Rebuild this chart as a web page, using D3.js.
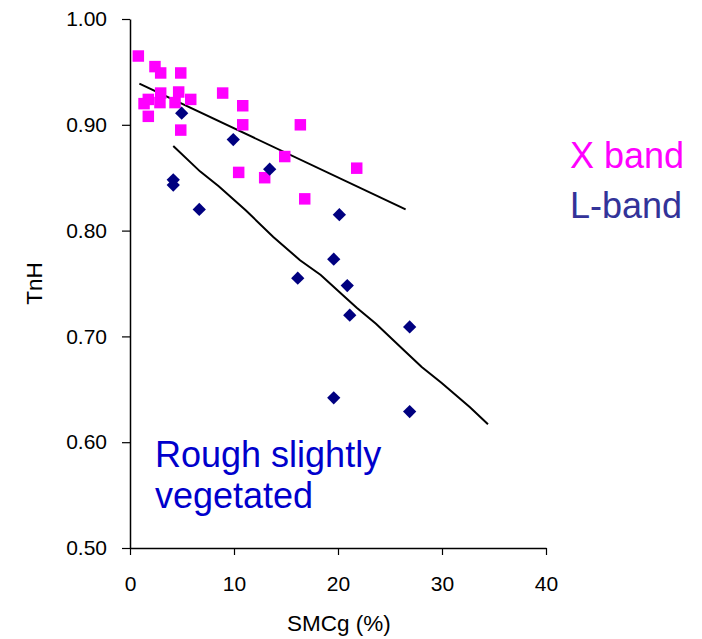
<!DOCTYPE html>
<html>
<head>
<meta charset="utf-8">
<script src="https://cdn.jsdelivr.net/npm/d3@7"></script>
<style>
  html, body { margin: 0; padding: 0; background: #fff; }
  svg { display: block; font-family: "Liberation Sans", Arial, sans-serif; }
</style>
</head>
<body>
<svg id="chart" width="702" height="639"></svg>
<script>
// X band brightness temperature ratio vs. soil moisture
const xBandSMC = [0.8, 2.4, 2.95, 4.88, 2.95, 4.68, 1.76, 1.35, 2.88, 4.33, 5.84, 8.91, 10.84, 1.76, 4.88, 10.84, 16.38, 14.88, 21.8, 10.45, 12.95, 16.8];
const xBandTnH = [0.965, 0.955, 0.949, 0.949, 0.930, 0.931, 0.924, 0.920, 0.921, 0.921, 0.924, 0.930, 0.918, 0.908, 0.895, 0.900, 0.900, 0.870, 0.859, 0.855, 0.850, 0.830];

// L-band brightness temperature ratio vs. soil moisture
const lBandSMC = [4.97, 9.93, 13.43, 4.16, 4.16, 6.66, 20.13, 19.59, 16.13, 20.89, 21.13, 26.89, 19.59, 26.89];
const lBandTnH = [0.911, 0.886, 0.858, 0.848, 0.843, 0.820, 0.815, 0.773, 0.755, 0.748, 0.720, 0.709, 0.642, 0.629];

// Trend lines
const xTrendSMC = [0.9, 26.5];
const xTrendTnH = [0.939, 0.820];
const lTrendSMC = [4.16, 6.73, 8.53, 11.15, 13.78, 16.35, 18.34, 20.13, 21.8, 23.65, 26.44, 28.05, 29.97, 32.69, 34.42];
const lTrendTnH = [0.880, 0.856, 0.842, 0.819, 0.794, 0.772, 0.758, 0.742, 0.727, 0.712, 0.686, 0.671, 0.656, 0.633, 0.617];

// Axis ticks
const xTicks = [0, 10, 20, 30, 40];
const yTicks = [0.5, 0.6, 0.7, 0.8, 0.9, 1.0];

const svg = d3.select("#chart");

const x = d3.scaleLinear().domain([0, 40]).range([130, 546]);
const y = d3.scaleLinear().domain([0.5, 1.0]).range([548, 19]);

// Axes
const yAxis = svg.append("g")
  .attr("transform", `translate(${x(0)},0)`)
  .call(d3.axisLeft(y).tickValues(yTicks).tickFormat(d3.format(".2f"))
    .tickSize(8).tickSizeOuter(0).tickPadding(15));
const xAxis = svg.append("g")
  .attr("transform", `translate(0,${y(0.5)})`)
  .call(d3.axisBottom(x).tickValues(xTicks).tickFormat(d3.format("d"))
    .tickSize(7).tickSizeOuter(0).tickPadding(21));

[xAxis, yAxis].forEach(g => {
  g.select(".domain").attr("stroke", "#000").attr("stroke-width", 1.5);
  g.selectAll(".tick line").attr("stroke", "#000").attr("stroke-width", 1.2);
  g.selectAll(".tick text").attr("fill", "#000")
    .style("font-size", "21px").style("font-family", "'Liberation Sans', Arial, sans-serif");
});

// Axis titles
svg.append("text")
  .attr("x", 339).attr("y", 631)
  .attr("text-anchor", "middle")
  .style("font-size", "22.5px")
  .text("SMCg (%)");
svg.append("text")
  .attr("transform", `translate(42,${y(0.75)}) rotate(-90)`)
  .attr("text-anchor", "middle")
  .style("font-size", "22.5px")
  .text("TnH");

// Trend lines
const line = d3.line().x(d => x(d[0])).y(d => y(d[1]));
svg.append("path")
  .datum(d3.zip(xTrendSMC, xTrendTnH))
  .attr("d", line)
  .attr("fill", "none").attr("stroke", "#000").attr("stroke-width", 2);
svg.append("path")
  .datum(d3.zip(lTrendSMC, lTrendTnH))
  .attr("d", line)
  .attr("fill", "none").attr("stroke", "#000").attr("stroke-width", 2);

// X band markers (squares)
const square = d3.symbol(d3.symbolSquare, 132);
svg.append("g").selectAll("path")
  .data(d3.zip(xBandSMC, xBandTnH))
  .join("path")
  .attr("d", square)
  .attr("transform", d => `translate(${x(d[0])},${y(d[1])})`)
  .attr("fill", "#ff00ff");

// L-band markers (diamonds)
const diamond = d3.symbol(d3.symbolSquare, 88);
svg.append("g").selectAll("path")
  .data(d3.zip(lBandSMC, lBandTnH))
  .join("path")
  .attr("d", diamond)
  .attr("transform", d => `translate(${x(d[0])},${y(d[1])}) rotate(45)`)
  .attr("fill", "#000080");

// Legend labels
svg.append("text")
  .attr("x", 570).attr("y", 168)
  .style("font-size", "36px").attr("fill", "#ff00ff")
  .text("X band");
svg.append("text")
  .attr("x", 570).attr("y", 218)
  .style("font-size", "36px").attr("fill", "#333399")
  .text("L-band");

// Surface description
const note = svg.append("text")
  .attr("x", 155).attr("y", 467)
  .style("font-size", "36px").attr("fill", "#0000cc");
note.append("tspan").attr("x", 155).attr("dy", 0).text("Rough slightly");
note.append("tspan").attr("x", 155).attr("dy", 41).text("vegetated");
</script>
</body>
</html>
